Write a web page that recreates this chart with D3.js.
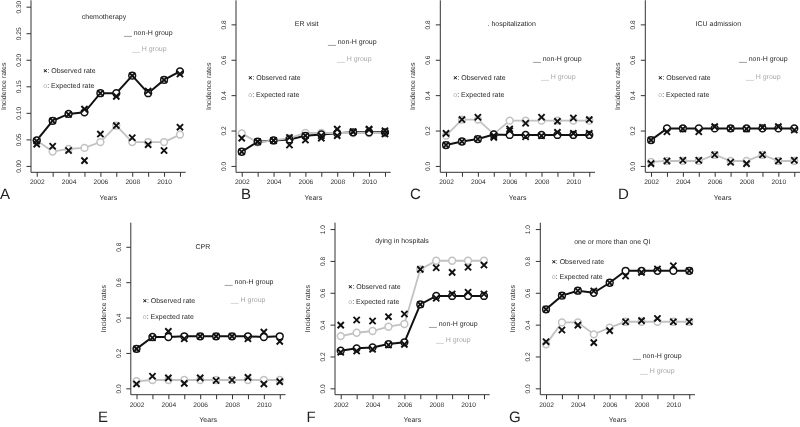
<!DOCTYPE html>
<html>
<head>
<meta charset="utf-8">
<script src="https://cdn.jsdelivr.net/npm/d3@7"></script>
<style>
  html, body { margin: 0; padding: 0; background: #fff; }
  svg { display: block; font-family: "Liberation Sans", Arial, sans-serif; will-change: transform; }
  svg text { text-rendering: geometricPrecision; -webkit-font-smoothing: antialiased; }
</style>
</head>
<body>
<svg id="chart" width="800" height="427"></svg>
<script>
// ---------- data ----------
const years = [2002, 2003, 2004, 2005, 2006, 2007, 2008, 2009, 2010, 2011];
const xTickLabels = [2002, 2004, 2006, 2008, 2010];
const yTicksA = [0, 0.05, 0.10, 0.15, 0.20, 0.25, 0.30];
const yTicks08 = [0, 0.2, 0.4, 0.6, 0.8];
const yTicks10 = [0, 0.2, 0.4, 0.6, 0.8, 1.0];

const titles = ["chemotherapy", "ER visit", ". hospitalization", "ICU admission", "CPR", "dying in hospitals", "one or more than one QI"];
const letters = ["A", "B", "C", "D", "E", "F", "G"];

// A: chemotherapy
const chemoNonHObs = [0.047, 0.085, 0.097, 0.107, 0.137, 0.131, 0.170, 0.141, 0.162, 0.173];
const chemoNonHExp = [0.048, 0.085, 0.098, 0.101, 0.137, 0.137, 0.170, 0.137, 0.162, 0.178];
const chemoHObs    = [0.041, 0.037, 0.029, 0.010, 0.060, 0.076, 0.053, 0.040, 0.029, 0.073];
const chemoHExp    = [0.048, 0.027, 0.032, 0.034, 0.045, 0.076, 0.045, 0.045, 0.045, 0.059];
// B: ER visit
const erNonHObs = [0.080, 0.137, 0.144, 0.118, 0.146, 0.157, 0.171, 0.193, 0.208, 0.180];
const erNonHExp = [0.080, 0.137, 0.144, 0.150, 0.170, 0.178, 0.185, 0.190, 0.190, 0.190];
const erHObs    = [0.157, 0.137, 0.144, 0.161, 0.171, 0.171, 0.208, 0.193, 0.205, 0.199];
const erHExp    = [0.184, 0.133, 0.144, 0.157, 0.186, 0.186, 0.186, 0.186, 0.186, 0.186];
// C: hospitalization
const hospNonHObs = [0.118, 0.138, 0.152, 0.161, 0.199, 0.165, 0.170, 0.190, 0.184, 0.184];
const hospNonHExp = [0.118, 0.138, 0.152, 0.178, 0.175, 0.175, 0.175, 0.175, 0.175, 0.175];
const hospHObs    = [0.184, 0.262, 0.275, 0.171, 0.209, 0.241, 0.275, 0.252, 0.271, 0.262];
const hospHExp    = [0.171, 0.262, 0.262, 0.180, 0.256, 0.256, 0.256, 0.256, 0.256, 0.256];
// D: ICU admission
const icuNonHObs = [0.146, 0.193, 0.209, 0.193, 0.222, 0.212, 0.209, 0.218, 0.222, 0.203];
const icuNonHExp = [0.146, 0.212, 0.212, 0.212, 0.212, 0.212, 0.212, 0.212, 0.212, 0.212];
const icuHObs    = [0.013, 0.028, 0.032, 0.032, 0.063, 0.021, 0.013, 0.063, 0.028, 0.032];
const icuHExp    = [0.023, 0.028, 0.028, 0.028, 0.063, 0.028, 0.028, 0.063, 0.028, 0.028];
// E: CPR
const cprNonHObs = [0.223, 0.286, 0.322, 0.280, 0.294, 0.294, 0.294, 0.280, 0.318, 0.265];
const cprNonHExp = [0.223, 0.290, 0.290, 0.294, 0.294, 0.294, 0.294, 0.294, 0.290, 0.294];
const cprHObs    = [0.025, 0.068, 0.059, 0.028, 0.059, 0.044, 0.047, 0.062, 0.025, 0.038];
const cprHExp    = [0.040, 0.047, 0.047, 0.047, 0.047, 0.047, 0.047, 0.047, 0.047, 0.047];
// F: dying in hospitals
const dyingNonHObs = [0.226, 0.234, 0.245, 0.272, 0.276, 0.527, 0.565, 0.592, 0.603, 0.592];
const dyingNonHExp = [0.236, 0.251, 0.257, 0.278, 0.289, 0.527, 0.580, 0.580, 0.580, 0.580];
const dyingHObs    = [0.397, 0.429, 0.423, 0.450, 0.467, 0.747, 0.757, 0.728, 0.760, 0.774];
const dyingHExp    = [0.328, 0.349, 0.360, 0.387, 0.404, 0.747, 0.801, 0.801, 0.801, 0.801];
// G: one or more than one QI
const qiNonHObs = [0.496, 0.582, 0.613, 0.611, 0.663, 0.705, 0.728, 0.749, 0.770, 0.738];
const qiNonHExp = [0.496, 0.582, 0.613, 0.600, 0.663, 0.738, 0.738, 0.738, 0.738, 0.738];
const qiHObs    = [0.293, 0.366, 0.397, 0.287, 0.362, 0.418, 0.425, 0.439, 0.418, 0.418];
const qiHExp    = [0.276, 0.414, 0.414, 0.339, 0.381, 0.418, 0.418, 0.418, 0.418, 0.418];

// ---------- layout ----------
const PW = 154.7, PH = 172;
const panels = [
  {x0: 31,    top: 0.3,   ymax: 0.3, ticks: yTicksA,  fmt: d3.format(".2f"), letterX: 0,
   nonHObs: chemoNonHObs, nonHExp: chemoNonHExp, hObs: chemoHObs, hExp: chemoHExp,
   tt: [73, 17.3], nh: [93, 33.3], h: [101, 49], ob: [12.3, 70.7], ex: [12.3, 86]},
  {x0: 236,   top: 0.3,   ymax: 0.9, ticks: yTicks08, fmt: d3.format(".1f"), letterX: 241,
   nonHObs: erNonHObs, nonHExp: erNonHExp, hObs: erHObs, hExp: erHExp,
   tt: [70.7, 24.3], nh: [92, 42.3], h: [101, 59.3], ob: [12.3, 77.7], ex: [12.3, 94.3]},
  {x0: 440.3, top: 0.3,   ymax: 0.9, ticks: yTicks08, fmt: d3.format(".1f"), letterX: 410,
   nonHObs: hospNonHObs, nonHExp: hospNonHExp, hObs: hospHObs, hExp: hospHExp,
   tt: [71.4, 24.3], nh: [92.7, 59.3], h: [100.7, 77.3], ob: [13, 77.7], ex: [13, 94.3]},
  {x0: 645.3, top: 0.3,   ymax: 0.9, ticks: yTicks08, fmt: d3.format(".1f"), letterX: 618,
   nonHObs: icuNonHObs, nonHExp: icuNonHExp, hObs: icuHObs, hExp: icuHExp,
   tt: [73, 24.3], nh: [93.7, 59.3], h: [100.7, 77.3], ob: [13, 77.7], ex: [13, 94.3]},
  {x0: 130.8, top: 222.7, ymax: 0.9, ticks: yTicks08, fmt: d3.format(".1f"), letterX: 98,
   nonHObs: cprNonHObs, nonHExp: cprNonHExp, hObs: cprHObs, hExp: cprHExp,
   tt: [72, 25], nh: [94, 60], h: [100, 77.3], ob: [12, 78], ex: [12, 94]},
  {x0: 335,   top: 222.7, ymax: 1.0, ticks: yTicks10, fmt: d3.format(".1f"), letterX: 306.5,
   nonHObs: dyingNonHObs, nonHExp: dyingNonHExp, hObs: dyingHObs, hExp: dyingHExp,
   tt: [67, 19], nh: [94, 101.3], h: [101, 118], ob: [13.3, 64], ex: [13.3, 79.6]},
  {x0: 540.3, top: 222.7, ymax: 1.0, ticks: yTicks10, fmt: d3.format(".1f"), letterX: 509,
   nonHObs: qiNonHObs, nonHExp: qiNonHExp, hObs: qiHObs, hExp: qiHExp,
   tt: [72, 19.6], nh: [92.7, 133.3], h: [99.7, 149], ob: [11.4, 39], ex: [11.4, 54.3]}
];

const BLACK = "#111", GRAY = "#c2c2c2", TEXT = "#2a2a2a", GTEXT = "#a8a8a8";
const svg = d3.select("#chart");

panels.forEach((p, i) => {
  const x = d3.scaleLinear().domain([2002 - 0.36, 2011 + 0.36]).range([p.x0, p.x0 + PW]);
  const y = d3.scaleLinear().domain([-0.04 * p.ymax, 1.04 * p.ymax]).range([p.top + PH, p.top]);
  const bottom = p.top + PH;
  const g = svg.append("g");

  // box (bty = "l")
  g.append("path")
    .attr("d", `M${p.x0},${p.top}V${bottom}H${p.x0 + PW}`)
    .attr("fill", "none").attr("stroke", "#333").attr("stroke-width", 1);

  // x axis
  const xAxis = d3.axisBottom(x).tickValues(years).tickSize(4.5).tickPadding(3)
    .tickFormat(d => xTickLabels.includes(d) ? String(d) : "");
  const gx = g.append("g").attr("transform", `translate(0,${bottom})`).call(xAxis);
  gx.select(".domain").remove();
  gx.selectAll("line").attr("stroke", "#333");
  gx.selectAll("text").attr("font-size", 6.6).attr("fill", TEXT)
    .attr("font-family", "Liberation Sans, Arial, sans-serif");

  // y axis
  const yAxis = d3.axisLeft(y).tickValues(p.ticks).tickSize(4.5).tickFormat(p.fmt);
  const gy = g.append("g").attr("transform", `translate(${p.x0},0)`).call(yAxis);
  gy.select(".domain").remove();
  gy.selectAll("line").attr("stroke", "#333");
  gy.selectAll("text")
    .attr("x", null).attr("dy", null)
    .attr("text-anchor", "middle").attr("dominant-baseline", "central")
    .attr("transform", "translate(-11.5,0) rotate(-90)")
    .attr("font-size", 6.6).attr("fill", TEXT)
    .attr("font-family", "Liberation Sans, Arial, sans-serif");

  // axis titles
  g.append("text").attr("x", p.x0 + PW / 2).attr("y", bottom + 26)
    .attr("text-anchor", "middle").attr("dominant-baseline", "central")
    .attr("font-size", 7).attr("fill", TEXT).text("Years");
  g.append("text")
    .attr("transform", `translate(${p.x0 - 26.5},${p.top + PH / 2}) rotate(-90)`)
    .attr("text-anchor", "middle").attr("dominant-baseline", "central")
    .attr("font-size", 7).attr("fill", TEXT).text("Incidence rates");

  // panel letter
  g.append("text").attr("x", p.letterX).attr("y", bottom + 26.8)
    .attr("font-size", 15).attr("fill", "#222").text(letters[i]);

  // lines
  const line = d3.line().x((d, k) => x(years[k])).y(d => y(d));
  g.append("path").datum(p.nonHExp).attr("d", line)
    .attr("fill", "none").attr("stroke", BLACK).attr("stroke-width", 2);
  g.append("path").datum(p.hExp).attr("d", line)
    .attr("fill", "none").attr("stroke", GRAY).attr("stroke-width", 1.8);

  // expected circles
  const drawCircles = (arr, col) => {
    g.append("g").selectAll("circle").data(arr).join("circle")
      .attr("cx", (d, k) => x(years[k])).attr("cy", d => y(d)).attr("r", 3.4)
      .attr("fill", "#fff").attr("stroke", col).attr("stroke-width", 1.5);
  };
  drawCircles(p.hExp, GRAY);
  drawCircles(p.nonHExp, BLACK);

  // observed crosses
  const s = 3.1;
  const drawCross = (arr) => {
    g.append("g").selectAll("path").data(arr).join("path")
      .attr("d", (d, k) => {
        const cx = x(years[k]), cy = y(d);
        return `M${cx - s},${cy - s}L${cx + s},${cy + s}M${cx - s},${cy + s}L${cx + s},${cy - s}`;
      })
      .attr("fill", "none").attr("stroke", BLACK).attr("stroke-width", 1.9);
  };
  drawCross(p.hObs);
  drawCross(p.nonHObs);

  // in-plot title and legend texts
  const tx = (o) => p.x0 + o[0], ty = (o) => p.top + o[1];
  g.append("text").attr("x", tx(p.tt)).attr("y", ty(p.tt))
    .attr("text-anchor", "middle").attr("dominant-baseline", "central")
    .attr("font-size", 7).attr("fill", TEXT).text(titles[i]);
  g.append("text").attr("x", tx(p.nh)).attr("y", ty(p.nh))
    .attr("dominant-baseline", "central")
    .attr("font-size", 7).attr("fill", TEXT).text("__ non-H group");
  g.append("text").attr("x", tx(p.h)).attr("y", ty(p.h))
    .attr("dominant-baseline", "central")
    .attr("font-size", 7).attr("fill", GTEXT).text("__ H group");
  const ob = g.append("text").attr("x", tx(p.ob)).attr("y", ty(p.ob))
    .attr("dominant-baseline", "central").attr("font-size", 7).attr("fill", TEXT);
  ob.append("tspan").attr("font-weight", "bold").attr("fill", "#000").text("×");
  ob.append("tspan").text(": Observed rate");
  const ex = g.append("text").attr("x", tx(p.ex)).attr("y", ty(p.ex))
    .attr("dominant-baseline", "central").attr("font-size", 7).attr("fill", TEXT);
  ex.append("tspan").attr("fill", GTEXT).text("o");
  ex.append("tspan").text(": Expected rate");
});
</script>
</body>
</html>
